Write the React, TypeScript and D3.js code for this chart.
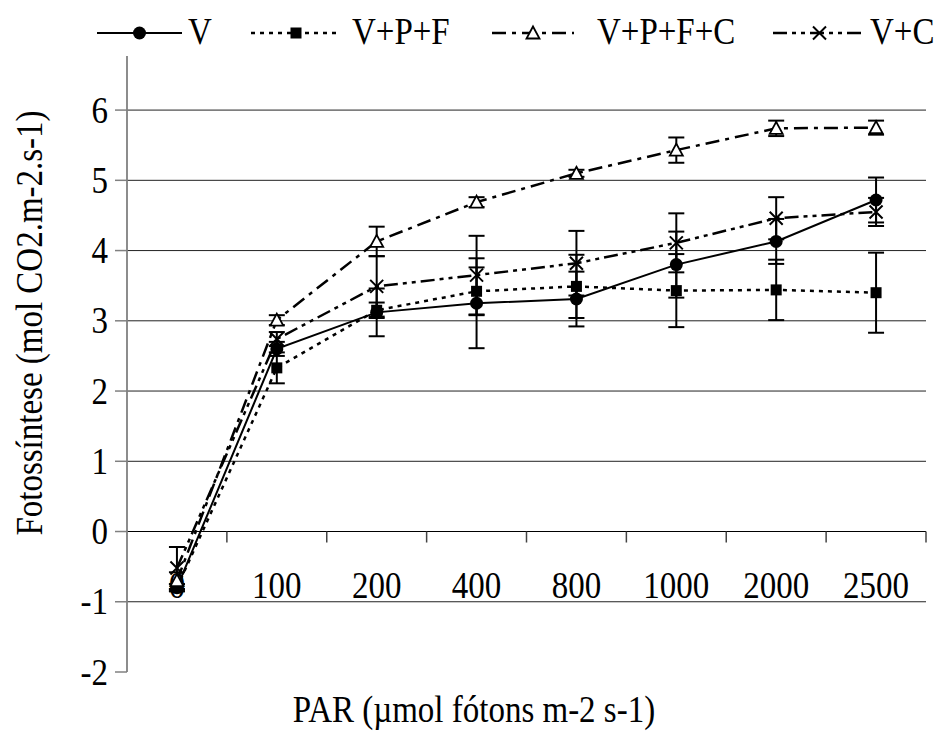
import React from "react";
import * as d3 from "d3";

const categories = ["0", "100", "200", "400", "800", "1000", "2000", "2500"];
const seriesNames = ["V", "V+P+F", "V+P+F+C", "V+C"];
const vValues = [-0.8, 2.6, 3.12, 3.25, 3.31, 3.8, 4.13, 4.72];
const vErr = [0.05, 0.1, 0.34, 0.64, 0.39, 0.47, 0.32, 0.32];
const vpfValues = [-0.8, 2.33, 3.15, 3.42, 3.49, 3.43, 3.44, 3.4];
const vpfErr = [0.05, 0.22, 0.11, 0.34, 0.45, 0.52, 0.43, 0.57];
const vpfcValues = [-0.7, 3.01, 4.13, 4.69, 5.1, 5.43, 5.74, 5.75];
const vpfcErr = [0.12, 0.07, 0.21, 0.07, 0.05, 0.18, 0.11, 0.1];
const vcValues = [-0.52, 2.74, 3.49, 3.65, 3.82, 4.11, 4.46, 4.55];
const vcErr = [0.3, 0.1, 0.43, 0.56, 0.46, 0.42, 0.3, 0.2];
const yTicks = [-2, -1, 0, 1, 2, 3, 4, 5, 6];
const gridValues = [-1, 1, 2, 3, 4, 5, 6];

const FONT = "'Liberation Serif', 'Times New Roman', serif";
const FS = 33;
const STRETCH = 1.15;

type Style = { dash: string; width: number; marker: "circle" | "square" | "triangle" | "cross" };
const styles: Style[] = [
  { dash: "none", width: 2, marker: "circle" },
  { dash: "4,5", width: 2.5, marker: "square" },
  { dash: "14,6,4,6", width: 2.5, marker: "triangle" },
  { dash: "14,5,4,5,4,5", width: 2.5, marker: "cross" },
];

function Marker({ type, cx, cy }: { type: string; cx: number; cy: number }) {
  if (type === "circle") return <circle cx={cx} cy={cy} r={6.5} fill="#000" />;
  if (type === "square") return <rect x={cx - 5.5} y={cy - 5.5} width={11} height={11} fill="#000" />;
  if (type === "triangle")
    return (
      <path
        d={`M${cx},${cy - 6.5}L${cx + 6.5},${cy + 5.5}L${cx - 6.5},${cy + 5.5}Z`}
        fill="#fff"
        stroke="#000"
        strokeWidth={1.8}
      />
    );
  return (
    <path
      d={`M${cx - 6.5},${cy - 6.5}L${cx + 6.5},${cy + 6.5}M${cx - 6.5},${cy + 6.5}L${cx + 6.5},${cy - 6.5}`}
      stroke="#000"
      strokeWidth={2}
      fill="none"
    />
  );
}

function T({
  x,
  y,
  anchor = "start",
  rotate = 0,
  dy,
  children,
}: {
  x: number;
  y: number;
  anchor?: string;
  rotate?: number;
  dy?: string;
  children: React.ReactNode;
}) {
  return (
    <text
      transform={`translate(${x},${y}) rotate(${rotate}) scale(1,${STRETCH})`}
      textAnchor={anchor}
      dy={dy}
      fontSize={FS}
      fill="#000"
    >
      {children}
    </text>
  );
}

export default function App() {
  const W = 946;
  const H = 753;
  const x = d3.scaleBand<string>().domain(categories).range([127, 926]);
  const y = d3.scaleLinear().domain([-2, 6.77]).range([672, 56]);
  const cx = (c: string) => (x(c) as number) + x.bandwidth() / 2;

  const series = [
    { name: seriesNames[0], values: vValues, err: vErr, style: styles[0] },
    { name: seriesNames[1], values: vpfValues, err: vpfErr, style: styles[1] },
    { name: seriesNames[2], values: vpfcValues, err: vpfcErr, style: styles[2] },
    { name: seriesNames[3], values: vcValues, err: vcErr, style: styles[3] },
  ];

  const line = d3
    .line<number>()
    .x((_, i) => cx(categories[i]))
    .y((d) => y(d));

  const legendPos = [
    { x0: 97, x1: 182, tx: 188 },
    { x0: 251, x1: 341, tx: 352 },
    { x0: 492, x1: 574, tx: 597 },
    { x0: 773, x1: 866, tx: 870 },
  ];

  const boundaries = categories.map((c) => x(c) as number).concat([x.range()[1]]);

  return (
    <svg width={W} height={H} style={{ position: "absolute", left: 0, top: 0 }} fontFamily={FONT}>
      <rect width={W} height={H} fill="#fff" />
      {gridValues.map((v) => (
        <line key={v} x1={127} x2={926} y1={y(v)} y2={y(v)} stroke="#222" strokeWidth={1} />
      ))}
      <line x1={127} x2={926} y1={y(0)} y2={y(0)} stroke="#000" strokeWidth={1.2} />
      {boundaries.slice(1).map((b, i) => (
        <line key={i} x1={b} x2={b} y1={y(0)} y2={y(0) + 11} stroke="#444" strokeWidth={1.5} />
      ))}
      <line x1={127} x2={127} y1={y(-2)} y2={y(6.77)} stroke="#808080" strokeWidth={1.8} />
      {yTicks.map((t) => (
        <g key={t}>
          <line x1={115} x2={127} y1={y(t)} y2={y(t)} stroke="#808080" strokeWidth={1.5} />
          <T x={108} y={y(t)} anchor="end" dy="0.33em">
            {t}
          </T>
        </g>
      ))}
      {categories.map((c) => (
        <T key={c} x={cx(c)} y={598} anchor="middle">
          {c}
        </T>
      ))}
      {series.map((s) => (
        <path
          key={s.name}
          d={line(s.values) as string}
          fill="none"
          stroke="#000"
          strokeWidth={s.style.width}
          strokeDasharray={s.style.dash}
        />
      ))}
      {series.map((s) =>
        s.values.map((v, i) => {
          const px = cx(categories[i]);
          const top = y(v + s.err[i]);
          const bot = y(v - s.err[i]);
          return (
            <g key={s.name + i} stroke="#000" strokeWidth={2}>
              <line x1={px} x2={px} y1={top} y2={bot} />
              <line x1={px - 8} x2={px + 8} y1={top} y2={top} />
              <line x1={px - 8} x2={px + 8} y1={bot} y2={bot} />
            </g>
          );
        })
      )}
      {series.map((s) =>
        s.values.map((v, i) => (
          <Marker key={s.name + "m" + i} type={s.style.marker} cx={cx(categories[i])} cy={y(v)} />
        ))
      )}
      {series.map((s, i) => {
        const p = legendPos[i];
        const ly = 33;
        return (
          <g key={"leg" + s.name}>
            <line
              x1={p.x0}
              x2={p.x1}
              y1={ly}
              y2={ly}
              stroke="#000"
              strokeWidth={s.style.width}
              strokeDasharray={s.style.dash}
            />
            <Marker type={s.style.marker} cx={(p.x0 + p.x1) / 2} cy={ly} />
            <T x={p.tx} y={44}>
              {s.name}
            </T>
          </g>
        );
      })}
      <T x={474} y={722} anchor="middle">
        PAR (µmol fótons m-2 s-1)
      </T>
      <T x={42} y={323} anchor="middle" rotate={-90}>
        Fotossíntese (mol CO2.m-2.s-1)
      </T>
    </svg>
  );
}
